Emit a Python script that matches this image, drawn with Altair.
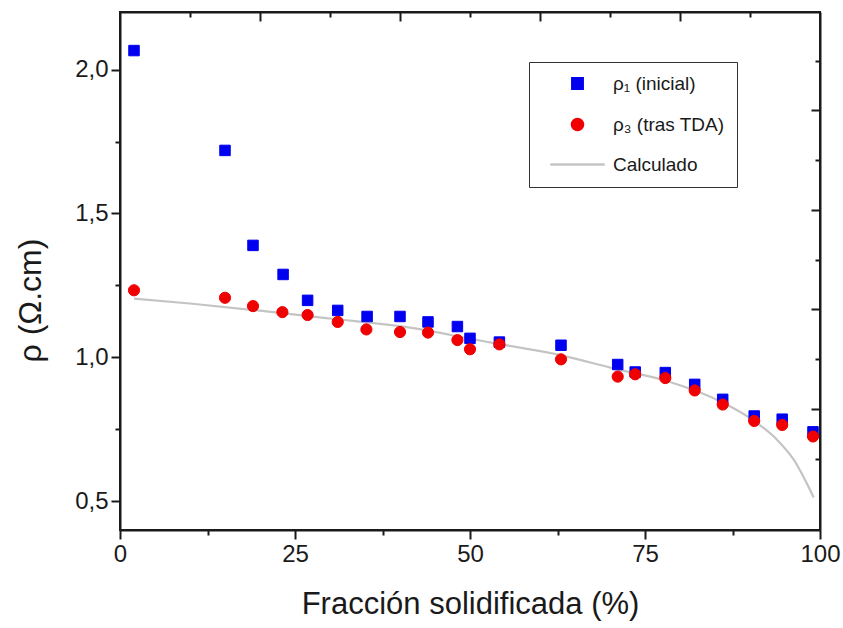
import altair as alt
import pandas as pd

# ---------------- data ----------------
x_rho1 = [2, 15, 19, 23.3, 26.8, 31.1, 35.3, 40, 44, 48.2, 50, 54.2, 63, 71.1, 73.6, 77.9, 82.1, 86.1, 90.6, 94.6, 99]
y_rho1 = [2.066, 1.719, 1.389, 1.288, 1.198, 1.163, 1.142, 1.142, 1.123, 1.107, 1.066, 1.053, 1.042,
          0.975, 0.949, 0.947, 0.906, 0.854, 0.796, 0.785, 0.741]

x_rho3 = [2, 15, 19, 23.2, 26.8, 31.1, 35.2, 40, 44, 48.2, 50, 54.2, 63, 71.1, 73.6, 77.9, 82.1, 86.1, 90.6, 94.6, 99]
y_rho3 = [1.233, 1.207, 1.178, 1.157, 1.147, 1.123, 1.097, 1.088, 1.086, 1.060, 1.028, 1.045, 0.993,
          0.933, 0.941, 0.928, 0.885, 0.836, 0.779, 0.765, 0.725]

x_calc = [2, 10, 20, 30, 41.4, 50, 54.2, 63, 71.1, 78.1, 86.1, 90.6, 93.8, 96.2, 99.1]
y_calc = [1.204, 1.187, 1.162, 1.135, 1.103, 1.065, 1.046, 1.007, 0.958, 0.918, 0.843, 0.779, 0.715, 0.646, 0.513]

series = ["ρ₁ (inicial)", "ρ₃ (tras TDA)", "Calculado"]
colors = ["#0000f0", "#f00000", "#c4c4c4"]
shapes = ["square", "circle", "M-4.6,0H4.6"]
sizes = [110, 140, 115]

x_ticks_bottom = [0, 12.5, 25, 37.5, 50, 62.5, 75, 87.5, 100]
y_ticks_left = [0.5, 0.75, 1.0, 1.25, 1.5, 1.75, 2.0]
x_ticks_top = [10, 20, 30, 40, 50, 60, 70, 80, 90]
r_ticks = [0.5, 1, 1.5, 2, 2.5, 3, 3.5, 4, 4.5]
r_domain = [-0.2185, 4.988]

# ---------------- tables ----------------
pts = pd.DataFrame({
    "x": x_rho1 + x_rho3,
    "y": y_rho1 + y_rho3,
    "serie": [series[0]] * len(x_rho1) + [series[1]] * len(x_rho3),
})
calc = pd.DataFrame({"x": x_calc, "y": y_calc, "serie": [series[2]] * len(x_calc)})
dummy = pd.DataFrame({"x": [50], "r": [2]})

FONT = "Liberation Sans"
AX = dict(domainColor="#1a1a1a", domainWidth=2, tickColor="#1a1a1a", tickWidth=2,
          grid=False, labelColor="#1a1a1a", titleColor="#1a1a1a", labelFont=FONT, titleFont=FONT)

xscale = alt.Scale(domain=[0, 100], nice=False, zero=False)
yscale = alt.Scale(domain=[0.4, 2.2], nice=False, zero=False)

x_axis = alt.Axis(values=x_ticks_bottom, orient="bottom",
                  labelExpr="datum.value % 25 === 0 ? datum.label : ''",
                  format="d", labelOverlap=False, labelFlush=False,
                  tickSize={"expr": "datum.value % 25 === 0 ? 9 : 5"},
                  labelFontSize=24, labelPadding=3,
                  title="Fracción solidificada (%)", titleFontSize=31, titleFontWeight="normal",
                  titleY=74, titleBaseline="middle", **AX)
y_axis = alt.Axis(values=y_ticks_left, orient="left",
                  labelExpr="datum.value % 0.5 === 0 ? replace(format(datum.value, '.1f'), '.', ',') : ''",
                  labelOverlap=False, labelFlush=False,
                  tickSize={"expr": "datum.value % 0.5 === 0 ? 9 : 5"},
                  labelFontSize=24, labelPadding=3,
                  title="ρ (Ω.cm)", titleFontSize=32, titleFontWeight="normal",
                  titleX=-90, titleY=288, titleAngle=270, titleAlign="center", titleBaseline="middle", **AX)

legend = alt.Legend(
    orient="none", legendX=409, legendY=50, title=None,
    strokeColor="#333333", fillColor="white", padding=12,
    labelFont=FONT, labelFontSize=19, labelColor="#1a1a1a", labelOffset=26,
    symbolOffset=27, symbolStrokeWidth=2.4, rowPadding=20, symbolOpacity=1,
)

color = alt.Color("serie:N", scale=alt.Scale(domain=series, range=colors), legend=legend)
fill = alt.Fill("serie:N", scale=alt.Scale(domain=series, range=colors), legend=legend)
shape = alt.Shape("serie:N", scale=alt.Scale(domain=series, range=shapes), legend=legend)
size = alt.Size("serie:N", scale=alt.Scale(domain=series, range=sizes), legend=legend)

line = alt.Chart(calc).mark_line(strokeWidth=2.2, interpolate="monotone").encode(
    x=alt.X("x:Q", scale=xscale, axis=x_axis),
    y=alt.Y("y:Q", scale=yscale, axis=y_axis),
    color=color,
)
points = alt.Chart(pts).mark_point(filled=False, strokeWidth=1, opacity=1).encode(
    x=alt.X("x:Q", scale=xscale, axis=x_axis),
    y=alt.Y("y:Q", scale=yscale, axis=y_axis),
    color=color,
    fill=fill,
    shape=shape,
    size=size,
)
main = alt.layer(line, points)

frame = alt.Chart(dummy).mark_point(opacity=0).encode(
    x=alt.X("x:Q", scale=alt.Scale(domain=[0, 100], nice=False, zero=False),
            axis=alt.Axis(orient="top", values=x_ticks_top, labels=False, title=None,
                          tickSize={"expr": "datum.value % 20 === 0 ? -9 : -5"}, **AX)),
    y=alt.Y("r:Q", scale=alt.Scale(domain=r_domain, nice=False, zero=False),
            axis=alt.Axis(orient="right", values=r_ticks, labels=False, title=None,
                          tickSize={"expr": "datum.value % 1 === 0 ? -9 : -5"}, **AX)),
)

chart = alt.layer(main, frame).resolve_scale(
    x="independent", y="independent"
).resolve_axis(
    x="independent", y="independent"
).properties(
    width=700, height=518,
    autosize=alt.AutoSizeParams(type="none"),
    padding={"left": 120, "top": 12, "right": 23, "bottom": 98},
    background="white",
).configure_view(stroke="#1a1a1a", strokeWidth=2)

chart.save("out.html", embed_options={"renderer": "svg", "actions": False})
